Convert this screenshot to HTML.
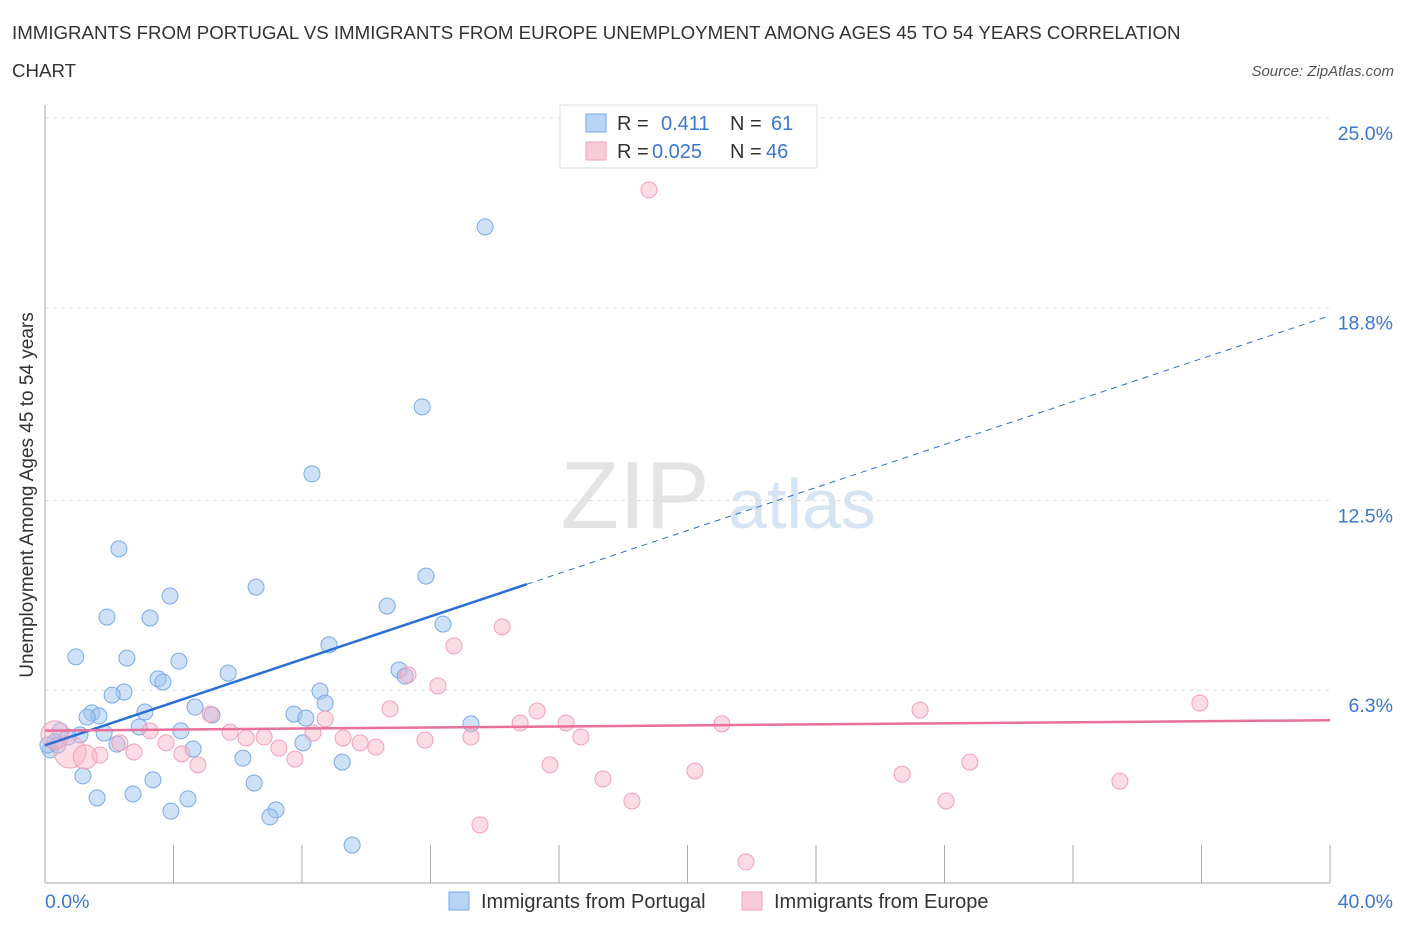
<!DOCTYPE html>
<html><head><meta charset="utf-8"><style>
body{margin:0;background:#fff;font-family:"Liberation Sans",sans-serif;}
svg text{font-family:"Liberation Sans",sans-serif;}
</style></head><body>
<svg id="chart" width="1406" height="930">
<text x="12" y="39" font-size="18.7" fill="#333">IMMIGRANTS FROM PORTUGAL VS IMMIGRANTS FROM EUROPE UNEMPLOYMENT AMONG AGES 45 TO 54 YEARS CORRELATION</text>
<text x="12" y="77" font-size="18.7" fill="#333">CHART</text>
<text x="1394" y="76" font-size="15" fill="#555" font-style="italic" text-anchor="end">Source: ZipAtlas.com</text>
<text x="635" y="528" font-size="96" fill="#e4e4e4" font-family="Liberation Serif" text-anchor="middle">ZIP</text>
<text x="802" y="528" font-size="70" fill="#d6e4f4" text-anchor="middle">atlas</text>
<g id="grid"></g><g id="axes"></g><g id="marks"></g>
<text x="33" y="495" font-size="19" fill="#333" text-anchor="middle" transform="rotate(-90 33 495)">Unemployment Among Ages 45 to 54 years</text>
<text x="45" y="908" font-size="19.5" fill="#3a78d0">0.0%</text>
<text x="1393" y="908" font-size="19.5" fill="#3a78d0" text-anchor="end">40.0%</text>
<g>
<rect x="560" y="105" width="257" height="63" fill="#fff" stroke="#ddd"/>
<rect x="586" y="114" width="20" height="18" fill="#b8d4f6" stroke="#7aaae8"/>
<text x="617" y="130" font-size="20" fill="#333">R =</text><text x="661" y="130" font-size="20" fill="#3a78d0">0.411</text>
<text x="730" y="130" font-size="20" fill="#333">N =</text><text x="771" y="130" font-size="20" fill="#3a78d0">61</text>
<rect x="586" y="142" width="20" height="18" fill="#f9cbd8" stroke="#f0a0b8"/>
<text x="617" y="158" font-size="20" fill="#333">R =</text><text x="652" y="158" font-size="20" fill="#3a78d0">0.025</text>
<text x="730" y="158" font-size="20" fill="#333">N =</text><text x="766" y="158" font-size="20" fill="#3a78d0">46</text>
</g>
<g>
<rect x="449" y="892" width="20" height="18" fill="#b8d4f6" stroke="#7aaae8"/>
<text x="481" y="908" font-size="20" fill="#333">Immigrants from Portugal</text>
<rect x="742" y="892" width="20" height="18" fill="#f9cbd8" stroke="#f0a0b8"/>
<text x="774" y="908" font-size="20" fill="#333">Immigrants from Europe</text>
</g>
</svg>
<script>
const yTicks=[6.3,12.5,18.8,25.0];
const yTickLabels=["6.3%","12.5%","18.8%","25.0%"];
const xTicks=[0,4,8,12,16,20,24,28,32,36,40];
const blueX=[13.70,11.74,8.31,2.30,6.57,3.89,11.86,10.65,1.93,3.27,12.39,8.84,0.96,2.55,4.17,11.02,5.70,3.52,3.67,11.21,2.46,2.09,8.56,8.72,4.67,3.11,1.46,1.68,1.31,5.20,7.75,8.12,13.26,2.93,4.23,1.84,1.09,0.47,0.72,0.31,0.16,2.24,4.61,8.03,6.16,9.25,1.18,3.36,6.51,2.74,1.62,4.45,7.19,7.00,3.92,9.56,0.09,0.40];
const blueY=[21.44,15.56,13.37,10.92,9.67,9.38,10.03,9.05,8.69,8.66,8.46,7.78,7.39,7.35,7.25,6.96,6.86,6.67,6.57,6.76,6.24,6.14,6.27,5.88,5.75,5.59,5.56,5.46,5.42,5.49,5.52,5.39,5.20,5.10,4.97,4.90,4.84,4.97,4.77,4.61,4.35,4.54,4.38,4.58,4.08,3.95,3.50,3.37,3.27,2.91,2.78,2.75,2.39,2.16,2.35,1.24,4.51,4.51];
const pinkX=[18.80,14.23,12.73,11.30,12.23,10.74,15.32,27.24,35.95,8.72,14.79,16.22,21.07,5.14,5.76,3.27,6.82,6.26,8.34,9.28,9.81,10.30,11.83,13.26,16.68,3.77,7.28,2.33,2.77,4.26,4.76,7.78,1.71,0.78,0.31,15.72,20.23,28.79,17.37,26.68,33.46,18.27,28.05,13.54,21.82,1.25];
const pinkY=[22.65,8.37,7.75,6.80,6.44,5.69,5.62,5.65,5.88,5.36,5.23,5.23,5.20,5.52,4.93,4.97,4.77,4.74,4.90,4.74,4.58,4.44,4.67,4.77,4.77,4.58,4.41,4.58,4.28,4.22,3.86,4.05,4.18,4.28,4.84,3.86,3.66,3.95,3.40,3.56,3.33,2.68,2.68,1.90,0.69,4.12];
const pinkR=[8,8,8,8,8,8,8,8,8,8,8,8,8,8,8,8,8,8,8,8,8,8,8,8,8,8,8,8,8,8,8,8,8,16,14,8,8,8,8,8,8,8,8,8,8,12];
const blueFit=[4.5,0.351];
const pinkFit=[4.98,0.0085];
const NS="http://www.w3.org/2000/svg";
const X=v=>45+v*32.125, Y=v=>883-v*30.6;
function mk(p,t,a){const e=document.createElementNS(NS,t);for(const k in a)e.setAttribute(k,a[k]);p.appendChild(e);return e;}
const grid=document.getElementById('grid'),axes=document.getElementById('axes'),marks=document.getElementById('marks');
yTicks.forEach((v,i)=>{
 const l=mk(grid,'line',{x1:45,x2:1330,y1:Y(v),y2:Y(v),stroke:'#ddd','stroke-dasharray':'4,4'});
 
 
 const t=mk(grid,'text',{x:1393,y:Y(v)+22,'font-size':19.5,fill:'#3a78d0','text-anchor':'end'});t.textContent=yTickLabels[i];
 
 
});
const ya=mk(axes,'line',{x1:45,x2:45,y1:105,y2:883,stroke:'#aaa'});


const xa=mk(axes,'line',{x1:45,x2:1330,y1:883,y2:883,stroke:'#aaa'});


xTicks.forEach(v=>{const t=mk(axes,'line',{x1:X(v),x2:X(v),y1:845,y2:883,stroke:'#aaa'});
 
 });
blueX.forEach((v,i)=>{const c=mk(marks,'circle',{cx:X(v),cy:Y(blueY[i]),r:8,fill:'rgba(160,196,240,0.5)',stroke:'#7aaae8','stroke-width':1});
 
 });
pinkX.forEach((v,i)=>{const c=mk(marks,'circle',{cx:X(v),cy:Y(pinkY[i]),r:pinkR[i],fill:'rgba(248,180,200,0.45)',stroke:'#f0a0b8','stroke-width':1});
 
 });
const bf=x=>blueFit[0]+blueFit[1]*x;
const b1=mk(marks,'line',{x1:X(0),y1:Y(bf(0)),x2:X(15),y2:Y(bf(15)),stroke:'#2a6fd6','stroke-width':2.5});


const b2=mk(marks,'line',{x1:X(15),y1:Y(bf(15)),x2:X(40),y2:Y(bf(40)),stroke:'#2a6fd6','stroke-width':1,'stroke-dasharray':'6,5'});


const pf=x=>pinkFit[0]+pinkFit[1]*x;
const p1=mk(marks,'line',{x1:X(0),y1:Y(pf(0)),x2:X(40),y2:Y(pf(40)),stroke:'#e8709a','stroke-width':2.5});


</script>
</body></html>
